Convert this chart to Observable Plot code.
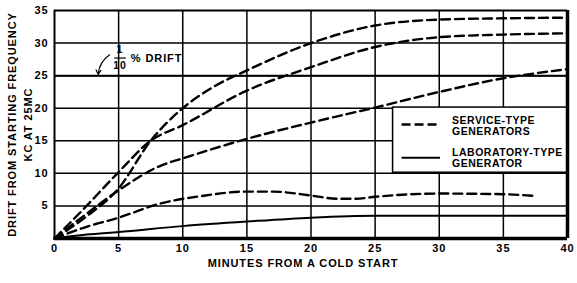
<!DOCTYPE html>
<html><head><meta charset="utf-8">
<script src="https://cdn.jsdelivr.net/npm/d3@7"></script>
<script src="https://cdn.jsdelivr.net/npm/@observablehq/plot@0.6"></script>
<style>
body{margin:0;background:#fff;}
svg{font-family:"Liberation Sans",Arial,sans-serif;}
</style></head><body><div id="chart"></div>
<script>
// Series (minutes, drift in kc)
const serviceA = [[0,0],[2.5,3.4],[5,7.7],[7.5,15],[10,20],[12.5,23.4],[15,25.8],[20,30],[25,32.7],[30,33.6],[35,33.8],[40,33.9]];
const serviceB = [[0,0],[2.5,5],[5,10.2],[7.5,15],[10,17.4],[15,22.7],[20,26.3],[25,29.4],[30,30.9],[35,31.3],[40,31.5]];
const serviceC = [[0,0],[2.5,3.8],[5,7.4],[8.3,11.2],[10,12.3],[15,15.3],[20,17.8],[25,20.1],[30,22.5],[35,24.6],[40,26]];
const serviceD = [[0,0],[2.5,1.8],[5,3.2],[8.3,5.4],[11.4,6.5],[15,7.2],[17,7.2],[20,6.6],[22,6.1],[23.5,6.1],[25,6.4],[30,6.9],[35,6.8],[37.6,6.5]];
const labE = [[0,0],[2.5,0.6],[5,1],[10,1.9],[15,2.6],[20,3.2],[25,3.5],[30,3.5],[40,3.5]];

const xTicks = [0,5,10,15,20,25,30,35,40];
const yTicks = [5,10,15,20,25,30,35];
const gridX = [5,10,15,20,25,30,35];
const gridY = [5,10,15,20,25,30];

const legendBox = [{x1:26.4, x2:40, y1:10.1, y2:20.1}];
const legendSamples = [
  {x1:27.1, x2:30.1, y:17.5, label:"SERVICE-TYPE\nGENERATORS", ty:17.3},
  {x1:27.1, x2:30.1, y:12.4, label:"LABORATORY-TYPE\nGENERATOR", ty:12.3}
];
const note = {one:[5.1,29.0], ten:[5.1,26.6], bar:[4.7,5.6,27.7], text:[5.95,27.6], arrowFrom:[4.3,28.2], arrowTo:[3.4,25.2]};

const series = [serviceA, serviceB, serviceC, serviceD];
const txt = {fontWeight:"bold", fill:"black"};

const chart = Plot.plot({
  width:577, height:283,
  marginLeft:54, marginRight:10, marginTop:10, marginBottom:45,
  x:{domain:[0,40], axis:null}, y:{domain:[0,35], axis:null},
  style:{fontFamily:"'Liberation Sans',Arial,sans-serif", background:"white"},
  marks:[
    Plot.ruleX(gridX, {stroke:"black", strokeWidth:1.5}),
    Plot.ruleY(gridY, {stroke:"black", strokeWidth:1.5}),
    Plot.ruleY([25], {stroke:"black", strokeWidth:2}),
    ...series.map(s => Plot.line(s, {x:d=>d[0], y:d=>d[1], stroke:"black", strokeWidth:2.4, strokeDasharray:"9,5", curve:"monotone-x"})),
    Plot.line(labE, {x:d=>d[0], y:d=>d[1], stroke:"black", strokeWidth:2, curve:"monotone-x"}),
    // frame
    Plot.ruleY([0], {stroke:"black", strokeWidth:3.5}),
    Plot.ruleY([35], {stroke:"black", strokeWidth:2}),
    Plot.ruleX([0], {stroke:"black", strokeWidth:2}),
    // legend
    Plot.rect(legendBox, {x1:"x1", x2:"x2", y1:"y1", y2:"y2", fill:"white", stroke:"black", strokeWidth:1.5}),
    Plot.ruleX([40], {stroke:"black", strokeWidth:3.5}),
    Plot.ruleY([legendSamples[0]], {x1:"x1", x2:"x2", y:"y", stroke:"black", strokeWidth:2.4, strokeDasharray:"9,4"}),
    Plot.ruleY([legendSamples[1]], {x1:"x1", x2:"x2", y:"y", stroke:"black", strokeWidth:2}),
    Plot.text(legendSamples, {x:31.0, y:"ty", text:"label", textAnchor:"start", lineHeight:1.05, fontSize:10.5, className:"legtxt", ...txt}),
    // annotation 1/10 % drift
    Plot.text(["1"], {x:note.one[0], y:note.one[1], fontSize:10.5, ...txt}),
    Plot.text(["10"], {x:note.ten[0], y:note.ten[1], fontSize:10.5, ...txt}),
    Plot.ruleY([note.bar[2]], {x1:note.bar[0], x2:note.bar[1], stroke:"black", strokeWidth:1.2}),
    Plot.text(["% DRIFT"], {x:note.text[0], y:note.text[1], textAnchor:"start", fontSize:11, ...txt}),
    Plot.arrow([note], {x1:d=>d.arrowFrom[0], y1:d=>d.arrowFrom[1], x2:d=>d.arrowTo[0], y2:d=>d.arrowTo[1], bend:-25, stroke:"black", strokeWidth:1.2, headLength:6}),
    // ticks
    Plot.text(xTicks, {x:d=>d, frameAnchor:"bottom", dy:13, text:d=>String(d), fontSize:11, ...txt}),
    Plot.text(yTicks, {y:d=>d, frameAnchor:"left", dx:-6, textAnchor:"end", text:d=>String(d), fontSize:11, ...txt}),
    // axis titles
    Plot.text(["MINUTES FROM A COLD START"], {frameAnchor:"bottom", dy:28, dx:-8, textAnchor:"middle", fontSize:11, ...txt}),
    Plot.text(["DRIFT FROM STARTING FREQUENCY"], {frameAnchor:"left", dx:-42, textAnchor:"middle", rotate:-90, fontSize:11, ...txt}),
    Plot.text(["KC AT 25MC"], {frameAnchor:"left", dx:-26, textAnchor:"middle", rotate:-90, fontSize:11, ...txt})
  ]
});
document.getElementById("chart").append(chart);
d3.select(chart).selectAll("text").style("letter-spacing","0.9px");
d3.select(chart).selectAll(".legtxt text").style("letter-spacing","0.5px");
</script></body></html>
